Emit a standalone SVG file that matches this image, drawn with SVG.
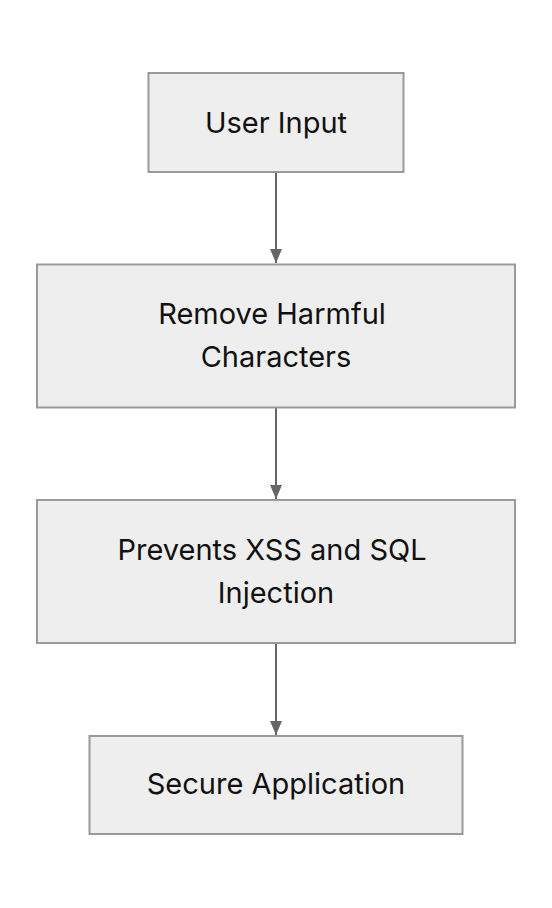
<svg xmlns="http://www.w3.org/2000/svg" width="552" height="908" viewBox="0 0 552 908">
<style>
.box{fill:#eeeeee;stroke:#999999;stroke-width:2}
.lbl{font-family:Inter,"Noto Sans",sans-serif;font-size:29px;fill:#111111;text-anchor:middle}
.edge{stroke:#666666;stroke-width:2;fill:none}
</style>
<defs>
<marker id="arr" viewBox="0 0 14 12" refX="14" refY="6" markerWidth="14" markerHeight="12" markerUnits="userSpaceOnUse" orient="auto">
<path d="M0,0 L14,6 L0,12 Z" fill="#666666"/>
</marker>
</defs>
<rect width="552" height="908" fill="#ffffff"/>
<g id="connectors">
<line class="edge" x1="276" y1="172" x2="276" y2="263" marker-end="url(#arr)"/>
<line class="edge" x1="276" y1="407" x2="276" y2="499" marker-end="url(#arr)"/>
<line class="edge" x1="276" y1="643" x2="276" y2="735" marker-end="url(#arr)"/>
</g>
<g id="n1">
<rect class="box" x="148.5" y="73" width="255" height="99"/>
<text class="lbl" x="276" y="133">User Input</text>
</g>
<g id="n2">
<rect class="box" x="37" y="264.5" width="478" height="143"/>
<text class="lbl" x="272" y="324">Remove Harmful</text>
<text class="lbl" x="276" y="367">Characters</text>
</g>
<g id="n3">
<rect class="box" x="37" y="500" width="478" height="143"/>
<text class="lbl" x="272" y="560">Prevents XSS and SQL</text>
<text class="lbl" x="276" y="603">Injection</text>
</g>
<g id="n4">
<rect class="box" x="89.5" y="736" width="373" height="98"/>
<text class="lbl" x="276" y="794">Secure Application</text>
</g>
</svg>
